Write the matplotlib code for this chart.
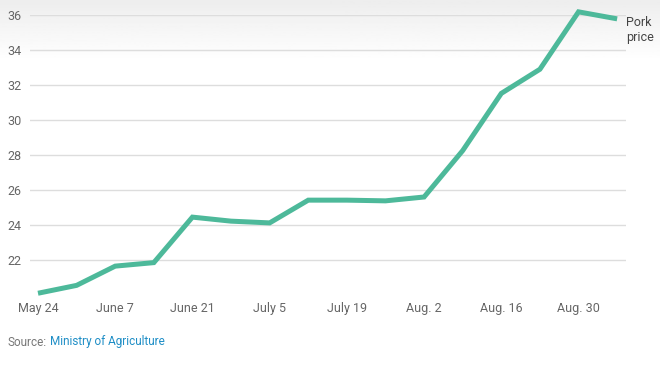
import matplotlib
matplotlib.use("Agg")
import matplotlib.pyplot as plt
import numpy as np

weeks = ["May 24", "May 31", "June 7", "June 14", "June 21", "June 28", "July 5", "July 12",
         "July 19", "July 26", "Aug. 2", "Aug. 9", "Aug. 16", "Aug. 23", "Aug. 30", "Sep. 6"]
pork_price = [20.1, 20.55, 21.65, 21.85, 24.45, 24.22, 24.12, 25.42,
              25.42, 25.38, 25.6, 28.25, 31.52, 32.9, 36.18, 35.78]
x_labels = ["May 24", "June 7", "June 21", "July 5", "July 19", "Aug. 2", "Aug. 16", "Aug. 30"]
y_ticks = [22, 24, 26, 28, 30, 32, 34, 36]

plt.rcParams['font.family'] = ['Roboto', 'DejaVu Sans']

fig = plt.figure(figsize=(6.6, 3.7), dpi=100)
fig.patch.set_facecolor('white')

# subtle top gradient
bg = fig.add_axes([0, 0, 1, 1], zorder=-10)
grad = np.linspace(0.93, 1.0, 60).reshape(-1, 1)
grad = np.vstack([grad, np.ones((300, 1))])
bg.imshow(grad, cmap='gray', vmin=0, vmax=1, aspect='auto', extent=[0, 1, 0, 1], origin='upper')
bg.axis('off')

ax = fig.add_axes([30/660, 1-295/370, (626-30)/660, (295-15)/370])
ax.patch.set_alpha(0)
xs = np.arange(len(weeks))
ax.plot(xs, pork_price, color='#4db99a', lw=3.6, solid_capstyle='butt', solid_joinstyle='miter', clip_on=False, zorder=3)
ax.set_xlim(-0.207, 15.23)
ax.set_ylim(20, 36)
ax.set_yticks(y_ticks)
ax.set_yticklabels([str(v) for v in y_ticks])
ax.set_xticks([weeks.index(l) for l in x_labels])
ax.set_xticklabels(x_labels)
ax.tick_params(axis='both', length=0, labelsize=9, labelcolor='#666666')
ax.tick_params(axis='x', pad=5)
ax.tick_params(axis='y', pad=6)
for s in ax.spines.values():
    s.set_visible(False)
ax.grid(axis='y', color='#dddddd', lw=1)
ax.grid(axis='x', visible=False)
ax.axhline(36, color='#cccccc', lw=1.2, zorder=1)

fig.text(626/660, 1-30/370, "Pork\nprice", ha='left', va='center',
         fontsize=9, color='#444444', linespacing=1.3)

t1 = fig.text(8/660, 1-342/370, "Source:", color='#777777', fontsize=8.5, va='center', ha='left')
fig.canvas.draw()
ext = t1.get_window_extent()
fig.text((ext.x1 + 2.5)/660, 1-342/370, "Ministry of Agriculture", color='#1f8ec6', fontsize=8.5, va='center', ha='left')

fig.savefig("out.png", dpi=100)
